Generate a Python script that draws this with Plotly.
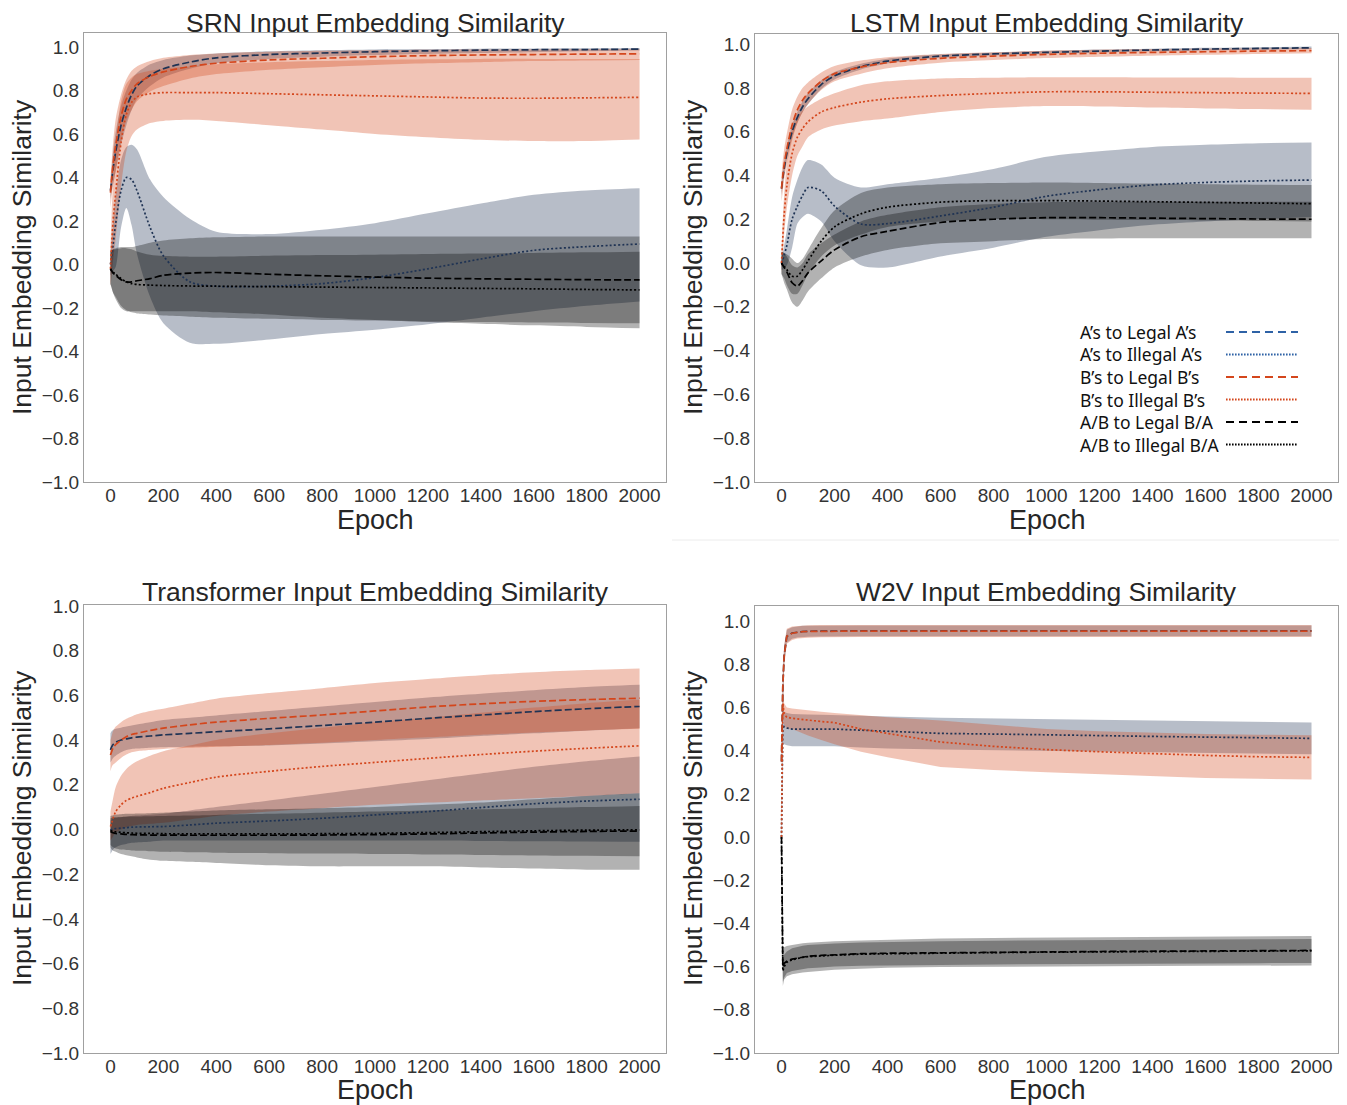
import plotly.graph_objects as go

# ---------------- data ----------------
epochs = [0, 5, 10, 20, 40, 60, 80, 100, 150, 200, 300, 400, 600, 800, 1000, 1200, 1400, 1600, 1800, 2000]

series_labels = ["A\u2019s to Legal A\u2019s", "A\u2019s to Illegal A\u2019s", "B\u2019s to Legal B\u2019s",
                 "B\u2019s to Illegal B\u2019s", "A/B to Legal B/A", "A/B to Illegal B/A"]
panel_titles = ["SRN Input Embedding Similarity", "LSTM Input Embedding Similarity",
                "Transformer Input Embedding Similarity", "W2V Input Embedding Similarity"]
x_ticks = [0, 200, 400, 600, 800, 1000, 1200, 1400, 1600, 1800, 2000]
y_ticks = [-1.0, -0.8, -0.6, -0.4, -0.2, 0.0, 0.2, 0.4, 0.6, 0.8, 1.0]

# SRN
srn_a_legal_mean = [0.34, 0.39, 0.44, 0.52, 0.64, 0.72, 0.78, 0.82, 0.87, 0.9, 0.93, 0.95, 0.965, 0.972, 0.978, 0.982, 0.985, 0.987, 0.988, 0.99]
srn_a_legal_hi = [0.38, 0.45, 0.52, 0.61, 0.73, 0.8, 0.85, 0.88, 0.92, 0.94, 0.96, 0.97, 0.98, 0.985, 0.988, 0.99, 0.992, 0.993, 0.994, 0.995]
srn_a_legal_lo = [0.3, 0.34, 0.37, 0.43, 0.55, 0.64, 0.71, 0.76, 0.82, 0.86, 0.9, 0.925, 0.945, 0.955, 0.963, 0.968, 0.972, 0.976, 0.98, 0.983]
srn_a_illegal_mean = [0.0, 0.04, 0.09, 0.19, 0.34, 0.4, 0.39, 0.34, 0.17, 0.04, -0.08, -0.1, -0.1, -0.088, -0.06, -0.02, 0.025, 0.065, 0.082, 0.094]
srn_a_illegal_hi = [0.05, 0.12, 0.2, 0.32, 0.48, 0.54, 0.55, 0.53, 0.39, 0.31, 0.21, 0.15, 0.14, 0.16, 0.19, 0.235, 0.28, 0.32, 0.34, 0.35]
srn_a_illegal_lo = [-0.05, -0.04, -0.03, -0.01, 0.17, 0.26, 0.18, 0.05, -0.15, -0.27, -0.36, -0.365, -0.345, -0.32, -0.3, -0.275, -0.245, -0.215, -0.19, -0.17]
srn_b_legal_mean = [0.33, 0.4, 0.46, 0.55, 0.68, 0.76, 0.8, 0.83, 0.865, 0.885, 0.91, 0.925, 0.94, 0.948, 0.955, 0.96, 0.963, 0.965, 0.967, 0.968]
srn_b_legal_hi = [0.4, 0.48, 0.56, 0.67, 0.78, 0.85, 0.89, 0.91, 0.935, 0.95, 0.963, 0.97, 0.978, 0.982, 0.985, 0.987, 0.988, 0.989, 0.99, 0.99]
srn_b_legal_lo = [0.26, 0.32, 0.37, 0.43, 0.57, 0.66, 0.71, 0.75, 0.795, 0.82, 0.855, 0.875, 0.895, 0.907, 0.917, 0.925, 0.93, 0.935, 0.938, 0.94]
srn_b_illegal_mean = [-0.02, 0.1, 0.2, 0.33, 0.56, 0.69, 0.745, 0.77, 0.785, 0.79, 0.79, 0.79, 0.785, 0.78, 0.775, 0.77, 0.765, 0.764, 0.766, 0.768]
srn_b_illegal_hi = [0.08, 0.25, 0.38, 0.56, 0.75, 0.83, 0.86, 0.875, 0.89, 0.9, 0.91, 0.92, 0.93, 0.935, 0.94, 0.943, 0.945, 0.945, 0.945, 0.945]
srn_b_illegal_lo = [-0.1, -0.05, 0.02, 0.12, 0.36, 0.52, 0.59, 0.62, 0.65, 0.66, 0.665, 0.66, 0.64, 0.62, 0.6, 0.585, 0.573, 0.567, 0.568, 0.575]
srn_ab_legal_mean = [-0.02, -0.03, -0.04, -0.05, -0.07, -0.08, -0.08, -0.075, -0.065, -0.05, -0.04, -0.037, -0.045, -0.052, -0.058, -0.063, -0.066, -0.068, -0.07, -0.071]
srn_ab_legal_hi = [0.06, 0.065, 0.07, 0.075, 0.08, 0.08, 0.08, 0.085, 0.1, 0.11, 0.12, 0.125, 0.128, 0.128, 0.128, 0.128, 0.128, 0.128, 0.128, 0.128]
srn_ab_legal_lo = [-0.09, -0.11, -0.13, -0.16, -0.2, -0.215, -0.22, -0.225, -0.23, -0.235, -0.24, -0.245, -0.25, -0.255, -0.258, -0.262, -0.265, -0.267, -0.269, -0.27]
srn_ab_illegal_mean = [-0.02, -0.03, -0.035, -0.045, -0.065, -0.08, -0.088, -0.092, -0.095, -0.097, -0.099, -0.1, -0.102, -0.104, -0.106, -0.108, -0.11, -0.112, -0.115, -0.117]
srn_ab_illegal_hi = [0.06, 0.065, 0.068, 0.07, 0.075, 0.075, 0.07, 0.06, 0.045, 0.04, 0.036, 0.036, 0.04, 0.043, 0.045, 0.048, 0.05, 0.053, 0.056, 0.059]
srn_ab_illegal_lo = [-0.09, -0.11, -0.13, -0.15, -0.19, -0.21, -0.215, -0.215, -0.215, -0.215, -0.215, -0.22, -0.23, -0.245, -0.255, -0.265, -0.273, -0.28, -0.287, -0.293]

# LSTM
lstm_a_legal_mean = [0.34, 0.39, 0.43, 0.5, 0.6, 0.665, 0.715, 0.75, 0.815, 0.855, 0.897, 0.922, 0.945, 0.955, 0.962, 0.968, 0.973, 0.977, 0.98, 0.983]
lstm_a_legal_hi = [0.37, 0.42, 0.46, 0.53, 0.63, 0.69, 0.74, 0.775, 0.835, 0.872, 0.91, 0.933, 0.953, 0.962, 0.969, 0.975, 0.979, 0.983, 0.986, 0.989]
lstm_a_legal_lo = [0.31, 0.36, 0.4, 0.47, 0.57, 0.64, 0.69, 0.725, 0.795, 0.838, 0.884, 0.911, 0.937, 0.948, 0.955, 0.961, 0.967, 0.971, 0.974, 0.977]
lstm_a_illegal_mean = [0.0, 0.015, 0.035, 0.08, 0.2, 0.26, 0.31, 0.345, 0.33, 0.26, 0.178, 0.18, 0.215, 0.255, 0.305, 0.335, 0.357, 0.368, 0.375, 0.379]
lstm_a_illegal_hi = [0.03, 0.05, 0.08, 0.15, 0.3, 0.38, 0.44, 0.47, 0.45, 0.39, 0.345, 0.36, 0.39, 0.43, 0.485, 0.51, 0.53, 0.54, 0.547, 0.55]
lstm_a_illegal_lo = [-0.03, -0.03, -0.02, -0.01, 0.07, 0.18, 0.21, 0.225, 0.19, 0.1, -0.01, -0.02, 0.03, 0.07, 0.12, 0.15, 0.175, 0.19, 0.2, 0.21]
lstm_b_legal_mean = [0.34, 0.4, 0.45, 0.52, 0.63, 0.7, 0.745, 0.775, 0.83, 0.865, 0.895, 0.915, 0.935, 0.945, 0.953, 0.958, 0.962, 0.965, 0.968, 0.97]
lstm_b_legal_hi = [0.4, 0.47, 0.52, 0.59, 0.7, 0.76, 0.8, 0.825, 0.87, 0.9, 0.925, 0.94, 0.955, 0.963, 0.97, 0.974, 0.977, 0.979, 0.981, 0.982]
lstm_b_legal_lo = [0.28, 0.33, 0.38, 0.45, 0.56, 0.64, 0.69, 0.725, 0.79, 0.83, 0.865, 0.89, 0.915, 0.927, 0.936, 0.942, 0.947, 0.951, 0.955, 0.958]
lstm_b_illegal_mean = [0.0, 0.12, 0.22, 0.35, 0.5, 0.575, 0.615, 0.645, 0.69, 0.71, 0.735, 0.75, 0.765, 0.775, 0.782, 0.782, 0.78, 0.778, 0.776, 0.775]
lstm_b_illegal_hi = [0.05, 0.2, 0.31, 0.45, 0.6, 0.66, 0.695, 0.715, 0.75, 0.775, 0.812, 0.83, 0.843, 0.846, 0.848, 0.848, 0.847, 0.847, 0.846, 0.846]
lstm_b_illegal_lo = [-0.05, 0.04, 0.13, 0.25, 0.4, 0.49, 0.535, 0.575, 0.61, 0.628, 0.648, 0.66, 0.69, 0.708, 0.717, 0.715, 0.71, 0.706, 0.703, 0.7]
lstm_ab_legal_mean = [0.0, -0.01, -0.02, -0.04, -0.09, -0.105, -0.08, -0.045, 0.01, 0.06, 0.12, 0.145, 0.185, 0.2, 0.207, 0.207, 0.205, 0.203, 0.201, 0.2]
lstm_ab_legal_hi = [0.05, 0.05, 0.045, 0.03, -0.01, -0.02, 0.0, 0.04, 0.09, 0.13, 0.19, 0.22, 0.255, 0.27, 0.278, 0.28, 0.28, 0.28, 0.28, 0.28]
lstm_ab_legal_lo = [-0.05, -0.07, -0.09, -0.12, -0.18, -0.2, -0.17, -0.13, -0.07, -0.02, 0.03, 0.06, 0.09, 0.1, 0.11, 0.112, 0.113, 0.113, 0.113, 0.113]
lstm_ab_illegal_mean = [0.0, -0.01, -0.015, -0.03, -0.06, -0.06, -0.03, 0.01, 0.1, 0.165, 0.225, 0.255, 0.278, 0.285, 0.285, 0.283, 0.28, 0.277, 0.274, 0.271]
lstm_ab_illegal_hi = [0.05, 0.05, 0.045, 0.04, 0.02, 0.0, 0.02, 0.06, 0.16, 0.24, 0.32, 0.345, 0.36, 0.365, 0.368, 0.366, 0.363, 0.36, 0.358, 0.356]
lstm_ab_illegal_lo = [-0.05, -0.06, -0.07, -0.1, -0.14, -0.14, -0.1, -0.05, 0.03, 0.08, 0.13, 0.165, 0.19, 0.2, 0.2, 0.198, 0.196, 0.194, 0.192, 0.19]

# Transformer
tf_a_legal_mean = [0.356, 0.37, 0.38, 0.39, 0.4, 0.405, 0.41, 0.413, 0.418, 0.423, 0.43, 0.437, 0.45, 0.465, 0.48, 0.497, 0.512, 0.527, 0.54, 0.55]
tf_a_legal_hi = [0.43, 0.44, 0.445, 0.45, 0.455, 0.46, 0.465, 0.47, 0.48, 0.49, 0.5, 0.51, 0.53, 0.55, 0.57, 0.59, 0.607, 0.623, 0.637, 0.647]
tf_a_legal_lo = [0.3, 0.31, 0.32, 0.33, 0.345, 0.355, 0.36, 0.362, 0.366, 0.368, 0.37, 0.372, 0.376, 0.385, 0.395, 0.405, 0.418, 0.43, 0.442, 0.453]
tf_a_illegal_mean = [-0.002, 0.0, 0.002, 0.004, 0.006, 0.008, 0.01, 0.011, 0.012, 0.013, 0.02, 0.028, 0.038, 0.05, 0.065, 0.08, 0.098, 0.115, 0.127, 0.135]
tf_a_illegal_hi = [0.04, 0.045, 0.05, 0.052, 0.055, 0.058, 0.06, 0.062, 0.066, 0.07, 0.085, 0.1, 0.13, 0.16, 0.19, 0.22, 0.25, 0.28, 0.305, 0.326]
tf_a_illegal_lo = [-0.11, -0.1, -0.09, -0.08, -0.07, -0.065, -0.06, -0.058, -0.055, -0.05, -0.05, -0.05, -0.05, -0.05, -0.05, -0.05, -0.052, -0.053, -0.054, -0.055]
tf_b_legal_mean = [0.333, 0.35, 0.365, 0.38, 0.4, 0.415, 0.425, 0.43, 0.443, 0.453, 0.468, 0.48, 0.497, 0.512, 0.53, 0.548, 0.562, 0.573, 0.581, 0.587]
tf_b_legal_hi = [0.4, 0.42, 0.44, 0.46, 0.48, 0.495, 0.505, 0.515, 0.53, 0.54, 0.563, 0.585, 0.61, 0.632, 0.655, 0.673, 0.69, 0.703, 0.713, 0.72]
tf_b_legal_lo = [0.26, 0.28, 0.29, 0.3, 0.32, 0.335, 0.345, 0.35, 0.355, 0.36, 0.365, 0.37, 0.378, 0.388, 0.4, 0.412, 0.424, 0.434, 0.443, 0.45]
tf_b_illegal_mean = [0.013, 0.03, 0.05, 0.08, 0.11, 0.13, 0.14, 0.148, 0.165, 0.184, 0.21, 0.234, 0.26, 0.282, 0.3, 0.318, 0.335, 0.35, 0.363, 0.374]
tf_b_illegal_hi = [0.08, 0.11, 0.14, 0.19, 0.24, 0.27, 0.29, 0.305, 0.33, 0.35, 0.375, 0.4, 0.43, 0.455, 0.48, 0.5, 0.522, 0.545, 0.565, 0.58]
tf_b_illegal_lo = [-0.05, -0.04, -0.03, -0.015, 0.0, 0.01, 0.015, 0.02, 0.025, 0.03, 0.045, 0.06, 0.08, 0.095, 0.11, 0.12, 0.13, 0.14, 0.15, 0.162]
tf_ab_legal_mean = [-0.01, -0.012, -0.015, -0.018, -0.02, -0.022, -0.023, -0.024, -0.025, -0.025, -0.026, -0.026, -0.026, -0.025, -0.023, -0.02, -0.016, -0.012, -0.009, -0.007]
tf_ab_legal_hi = [0.06, 0.062, 0.064, 0.066, 0.068, 0.07, 0.07, 0.071, 0.073, 0.075, 0.08, 0.085, 0.09, 0.095, 0.1, 0.11, 0.12, 0.135, 0.15, 0.162]
tf_ab_legal_lo = [-0.08, -0.09, -0.095, -0.1, -0.11, -0.115, -0.12, -0.125, -0.135, -0.14, -0.145, -0.15, -0.16, -0.165, -0.165, -0.165, -0.17, -0.175, -0.18, -0.18]
tf_ab_illegal_mean = [-0.005, -0.007, -0.009, -0.011, -0.013, -0.015, -0.016, -0.017, -0.018, -0.019, -0.02, -0.02, -0.02, -0.019, -0.017, -0.014, -0.01, -0.006, -0.003, -0.002]
tf_ab_illegal_hi = [0.05, 0.052, 0.054, 0.055, 0.056, 0.057, 0.058, 0.058, 0.059, 0.06, 0.062, 0.065, 0.07, 0.075, 0.08, 0.085, 0.09, 0.095, 0.1, 0.105]
tf_ab_illegal_lo = [-0.07, -0.075, -0.08, -0.085, -0.09, -0.092, -0.094, -0.095, -0.097, -0.1, -0.102, -0.104, -0.106, -0.108, -0.11, -0.112, -0.114, -0.116, -0.118, -0.12]

# W2V
w2v_a_legal_mean = [0.35, 0.7, 0.84, 0.93, 0.945, 0.95, 0.952, 0.953, 0.954, 0.955, 0.955, 0.955, 0.955, 0.955, 0.955, 0.955, 0.955, 0.955, 0.955, 0.955]
w2v_a_legal_hi = [0.38, 0.76, 0.88, 0.96, 0.972, 0.976, 0.978, 0.979, 0.98, 0.98, 0.98, 0.98, 0.98, 0.98, 0.98, 0.98, 0.98, 0.98, 0.98, 0.98]
w2v_a_legal_lo = [0.32, 0.64, 0.8, 0.9, 0.918, 0.924, 0.927, 0.928, 0.929, 0.93, 0.93, 0.93, 0.93, 0.93, 0.93, 0.93, 0.93, 0.93, 0.93, 0.93]
w2v_a_illegal_mean = [0.0, 0.52, 0.51, 0.505, 0.5, 0.5, 0.5, 0.502, 0.503, 0.5, 0.495, 0.49, 0.48, 0.477, 0.475, 0.47, 0.466, 0.462, 0.46, 0.457]
w2v_a_illegal_hi = [0.05, 0.6, 0.58, 0.575, 0.57, 0.568, 0.567, 0.567, 0.566, 0.565, 0.562, 0.558, 0.553, 0.55, 0.548, 0.544, 0.54, 0.536, 0.533, 0.53]
w2v_a_illegal_lo = [-0.05, 0.44, 0.43, 0.425, 0.42, 0.42, 0.42, 0.42, 0.42, 0.42, 0.415, 0.41, 0.405, 0.402, 0.4, 0.396, 0.392, 0.389, 0.386, 0.384]
w2v_b_legal_mean = [0.35, 0.7, 0.84, 0.93, 0.944, 0.949, 0.951, 0.952, 0.953, 0.954, 0.954, 0.954, 0.954, 0.954, 0.954, 0.954, 0.954, 0.954, 0.954, 0.954]
w2v_b_legal_hi = [0.39, 0.77, 0.89, 0.965, 0.975, 0.978, 0.98, 0.981, 0.982, 0.982, 0.982, 0.982, 0.982, 0.982, 0.982, 0.982, 0.982, 0.982, 0.982, 0.982]
w2v_b_legal_lo = [0.31, 0.63, 0.79, 0.895, 0.913, 0.92, 0.922, 0.923, 0.925, 0.926, 0.926, 0.926, 0.926, 0.926, 0.926, 0.926, 0.926, 0.926, 0.926, 0.926]
w2v_b_illegal_mean = [0.0, 0.62, 0.57, 0.555, 0.55, 0.547, 0.545, 0.54, 0.535, 0.53, 0.5, 0.48, 0.44, 0.42, 0.405, 0.395, 0.385, 0.378, 0.372, 0.369]
w2v_b_illegal_hi = [0.05, 0.68, 0.62, 0.6, 0.595, 0.592, 0.59, 0.585, 0.58, 0.575, 0.565, 0.555, 0.54, 0.52, 0.5, 0.49, 0.482, 0.477, 0.474, 0.472]
w2v_b_illegal_lo = [-0.05, 0.56, 0.52, 0.5, 0.5, 0.49, 0.48, 0.47, 0.45, 0.43, 0.395, 0.37, 0.325, 0.31, 0.3, 0.29, 0.28, 0.273, 0.27, 0.267]
w2v_ab_legal_mean = [0.0, -0.6, -0.585, -0.575, -0.565, -0.56, -0.555, -0.552, -0.548, -0.545, -0.54, -0.538, -0.535, -0.533, -0.532, -0.53, -0.529, -0.528, -0.527, -0.525]
w2v_ab_legal_hi = [0.05, -0.52, -0.51, -0.505, -0.5, -0.495, -0.492, -0.49, -0.486, -0.483, -0.479, -0.475, -0.47, -0.467, -0.465, -0.463, -0.461, -0.46, -0.459, -0.458]
w2v_ab_legal_lo = [-0.05, -0.69, -0.66, -0.645, -0.635, -0.63, -0.627, -0.625, -0.62, -0.615, -0.61, -0.605, -0.602, -0.6, -0.599, -0.598, -0.597, -0.596, -0.595, -0.595]
w2v_ab_illegal_mean = [0.0, -0.62, -0.6, -0.58, -0.568, -0.562, -0.557, -0.554, -0.55, -0.547, -0.542, -0.54, -0.537, -0.535, -0.533, -0.531, -0.53, -0.529, -0.528, -0.527]
w2v_ab_illegal_hi = [0.04, -0.56, -0.545, -0.53, -0.515, -0.508, -0.503, -0.5, -0.496, -0.493, -0.488, -0.485, -0.482, -0.48, -0.478, -0.476, -0.475, -0.474, -0.473, -0.472]
w2v_ab_illegal_lo = [-0.04, -0.67, -0.65, -0.63, -0.62, -0.615, -0.61, -0.608, -0.604, -0.6, -0.596, -0.594, -0.592, -0.59, -0.588, -0.587, -0.586, -0.585, -0.584, -0.583]

# ---------------- style ----------------
NAVY = "#1f3354"
ORANGE = "#d4461c"
BLACK = "#000000"
FILL = {NAVY: "rgba(31,51,84,0.32)", ORANGE: "rgba(212,70,28,0.32)", BLACK: "rgba(0,0,0,0.30)"}
DASHED = "7px,3px"
DOTTED = "2px,2.2px"
FONT = "Liberation Sans, Arial, sans-serif"
OFF = 8  # page body margin
W, H = 1347 - OFF, 1105 - OFF

panels = [
    dict(ax="", series=[
        (srn_a_legal_mean, srn_a_legal_lo, srn_a_legal_hi, NAVY, DASHED),
        (srn_a_illegal_mean, srn_a_illegal_lo, srn_a_illegal_hi, NAVY, DOTTED),
        (srn_b_legal_mean, srn_b_legal_lo, srn_b_legal_hi, ORANGE, DASHED),
        (srn_b_illegal_mean, srn_b_illegal_lo, srn_b_illegal_hi, ORANGE, DOTTED),
        (srn_ab_legal_mean, srn_ab_legal_lo, srn_ab_legal_hi, BLACK, DASHED),
        (srn_ab_illegal_mean, srn_ab_illegal_lo, srn_ab_illegal_hi, BLACK, DOTTED)],
         box=(84, 666, 33, 482), yr=[-1.0, 1.064], shape="spline",
         title_xy=(375, 22.5), xlab_xy=(375, 520), ylab_xy=(22, 257)),
    dict(ax="2", series=[
        (lstm_a_legal_mean, lstm_a_legal_lo, lstm_a_legal_hi, NAVY, DASHED),
        (lstm_a_illegal_mean, lstm_a_illegal_lo, lstm_a_illegal_hi, NAVY, DOTTED),
        (lstm_b_legal_mean, lstm_b_legal_lo, lstm_b_legal_hi, ORANGE, DASHED),
        (lstm_b_illegal_mean, lstm_b_illegal_lo, lstm_b_illegal_hi, ORANGE, DOTTED),
        (lstm_ab_legal_mean, lstm_ab_legal_lo, lstm_ab_legal_hi, BLACK, DASHED),
        (lstm_ab_illegal_mean, lstm_ab_illegal_lo, lstm_ab_illegal_hi, BLACK, DOTTED)],
         box=(755, 1338, 34, 482), yr=[-1.0, 1.046], shape="spline",
         title_xy=(1047, 22.5), xlab_xy=(1047, 520), ylab_xy=(693, 257)),
    dict(ax="3", series=[
        (tf_a_legal_mean, tf_a_legal_lo, tf_a_legal_hi, NAVY, DASHED),
        (tf_a_illegal_mean, tf_a_illegal_lo, tf_a_illegal_hi, NAVY, DOTTED),
        (tf_b_legal_mean, tf_b_legal_lo, tf_b_legal_hi, ORANGE, DASHED),
        (tf_b_illegal_mean, tf_b_illegal_lo, tf_b_illegal_hi, ORANGE, DOTTED),
        (tf_ab_legal_mean, tf_ab_legal_lo, tf_ab_legal_hi, BLACK, DASHED),
        (tf_ab_illegal_mean, tf_ab_illegal_lo, tf_ab_illegal_hi, BLACK, DOTTED)],
         box=(84, 666, 605, 1053), yr=[-1.0, 1.004], shape="spline",
         title_xy=(375, 592), xlab_xy=(375, 1090), ylab_xy=(22, 828)),
    dict(ax="4", series=[
        (w2v_a_legal_mean, w2v_a_legal_lo, w2v_a_legal_hi, NAVY, DASHED),
        (w2v_a_illegal_mean, w2v_a_illegal_lo, w2v_a_illegal_hi, NAVY, DOTTED),
        (w2v_b_legal_mean, w2v_b_legal_lo, w2v_b_legal_hi, ORANGE, DASHED),
        (w2v_b_illegal_mean, w2v_b_illegal_lo, w2v_b_illegal_hi, ORANGE, DOTTED),
        (w2v_ab_legal_mean, w2v_ab_legal_lo, w2v_ab_legal_hi, BLACK, DASHED),
        (w2v_ab_illegal_mean, w2v_ab_illegal_lo, w2v_ab_illegal_hi, BLACK, DOTTED)],
         box=(755, 1338, 606, 1053), yr=[-1.0, 1.07], shape="linear",
         title_xy=(1046, 592), xlab_xy=(1047, 1090), ylab_xy=(693, 828)),
]

fig = go.Figure()
annotations = []
shapes = []
layout = dict(width=W, height=H, autosize=False, margin=dict(l=0, r=0, t=0, b=0, pad=0),
              paper_bgcolor="white", plot_bgcolor="white", showlegend=False)


def px(x):
    return (x - OFF) / W


def py(y):
    return 1 - (y - OFF) / H


for i, p in enumerate(panels):
    ax = p["ax"]
    xa, ya = "x" + ax, "y" + ax
    # bands first (lower edge, then upper edge filled down to it)
    for mean, lo, hi, color, dash in p["series"]:
        fig.add_trace(go.Scatter(
            x=epochs, y=lo, xaxis=xa, yaxis=ya, mode="lines",
            line=dict(width=0, color=FILL[color], shape=p["shape"], smoothing=0.8), hoverinfo="skip"))
        fig.add_trace(go.Scatter(
            x=epochs, y=hi, xaxis=xa, yaxis=ya, mode="lines", fill="tonexty",
            fillcolor=FILL[color],
            line=dict(width=0, color=FILL[color], shape=p["shape"], smoothing=0.8), hoverinfo="skip"))
    for mean, lo, hi, color, dash in p["series"]:
        fig.add_trace(go.Scatter(
            x=epochs, y=mean, xaxis=xa, yaxis=ya, mode="lines",
            line=dict(color=color, width=1.7, dash=dash, shape=p["shape"], smoothing=0.8)))
    x0, x1, y0, y1 = p["box"]
    axis_common = dict(showgrid=False, zeroline=False, showline=True, mirror=True, automargin=False,
                       linecolor="#a0a0a0", linewidth=1, ticks="", ticklen=0,
                       tickfont=dict(family=FONT, size=19, color="#333333"))
    layout["xaxis" + ax] = dict(axis_common, domain=[px(x0), px(x1)], range=[-100, 2100],
                                tickvals=x_ticks, anchor=ya, ticklabelstandoff=-4)
    layout["yaxis" + ax] = dict(axis_common, domain=[py(y1), py(y0)], range=p["yr"],
                                tickvals=y_ticks, tickformat=".1f", anchor=xa, ticklabelstandoff=0)
    tx, ty = p["title_xy"]
    annotations.append(dict(text=panel_titles[i], x=px(tx), y=py(ty), xref="paper", yref="paper",
                            xanchor="center", yanchor="middle", showarrow=False, borderpad=0,
                            font=dict(family=FONT, size=26.5, color="#262626")))
    lx, ly = p["xlab_xy"]
    annotations.append(dict(text="Epoch", x=px(lx), y=py(ly), xref="paper", yref="paper",
                            xanchor="center", yanchor="middle", showarrow=False, borderpad=0,
                            font=dict(family=FONT, size=27, color="#262626")))
    vx, vy = p["ylab_xy"]
    annotations.append(dict(text="Input Embedding Similarity", x=px(vx), y=py(vy), xref="paper",
                            yref="paper", xanchor="center", yanchor="middle", textangle=-90,
                            showarrow=False, font=dict(family=FONT, size=26.5, color="#262626")))

# custom legend in LSTM panel (text left, sample line right)
legend_colors = ["#2e62a6", "#2e62a6", "#d4461c", "#d4461c", "#000000", "#000000"]
legend_dashes = ["dash", "dot", "dash", "dot", "dash", "dot"]
row_y = [332, 354.5, 377, 399.5, 422, 444.5]
for lab, col, dsh, yy in zip(series_labels, legend_colors, legend_dashes, row_y):
    annotations.append(dict(text=lab, x=px(1078), y=py(yy), xref="paper", yref="paper",
                            xanchor="left", yanchor="middle", showarrow=False,
                            font=dict(family="Noto Sans, sans-serif", size=17.5, color="#111111")))
    shapes.append(dict(type="line", xref="paper", yref="paper", x0=px(1226), x1=px(1298),
                       y0=py(yy), y1=py(yy),
                       line=dict(color=col, width=2, dash="8px,5px" if dsh == "dash" else "1.6px,1.4px")))

# faint separator seen in the reference
shapes.append(dict(type="line", xref="paper", yref="paper", x0=px(672), x1=1, y0=py(540), y1=py(540),
                   line=dict(color="#ececec", width=1)))

layout["annotations"] = annotations
layout["shapes"] = shapes
fig.update_layout(**layout)
fig.write_html("out.html")
